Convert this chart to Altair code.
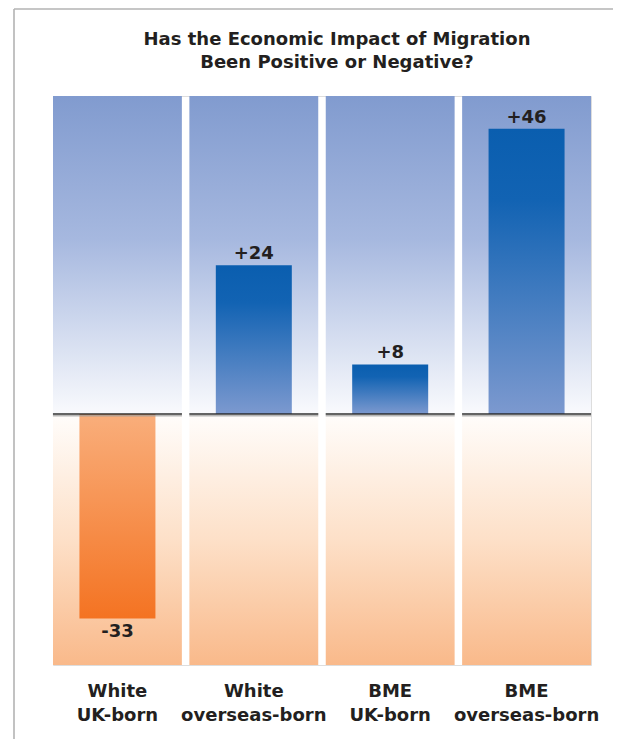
import altair as alt
import pandas as pd

title_lines = ["Has the Economic Impact of Migration", "Been Positive or Negative?"]
categories = ["White UK-born", "White overseas-born", "BME UK-born", "BME overseas-born"]
values = [-33, 24, 8, 46]
y_top = 51.3
y_bottom = -40.5

df = pd.DataFrame({
    "cat": categories,
    "value": values,
    "label": [f"{v:+d}" for v in values],
    "top": [y_top] * len(categories),
    "bottom": [y_bottom] * len(categories),
    "zero": [0] * len(categories),
})

FONT = "DejaVu Sans"
TXT = "#231f20"

xenc = alt.X(
    "cat:N",
    sort=categories,
    scale=alt.Scale(paddingInner=0.055, paddingOuter=0),
    axis=alt.Axis(
        title=None, labelAngle=0, ticks=False, domain=False,
        labelFontSize=18, labelFont=FONT, labelFontWeight="bold",
        labelColor=TXT, labelPadding=17, labelLineHeight=24,
        labelExpr="[slice(datum.label, 0, indexof(datum.label, ' ')), slice(datum.label, indexof(datum.label, ' ') + 1)]",
    ),
)
yscale = alt.Scale(domain=[y_bottom, y_top], nice=False, zero=False)

def grad(stops):
    return alt.Gradient(
        gradient="linear",
        stops=[alt.GradientStop(color=c, offset=o) for o, c in stops],
        x1=0, x2=0, y1=0, y2=1,
    )

base = alt.Chart(df)

bg_top = base.mark_bar(
    color=grad([(0, "#819bcf"), (0.45, "#a6b8df"), (1, "#f9fafd")])
).encode(x=xenc, y=alt.Y("zero:Q", scale=yscale, axis=None), y2="top:Q")

bg_bot = base.mark_bar(
    color=grad([(0, "#fffdfb"), (0.5, "#fde0c8"), (1, "#f9b98a")])
).encode(x=xenc, y=alt.Y("zero:Q", scale=yscale, axis=None), y2="bottom:Q")

pos_bars = base.transform_filter("datum.value > 0").mark_bar(
    size=76, color=grad([(0, "#0a5eaf"), (0.25, "#1263b3"), (1, "#7c99cf")])
).encode(x=xenc, y=alt.Y("value:Q", scale=yscale, axis=None), y2="zero:Q")

neg_bars = base.transform_filter("datum.value < 0").mark_bar(
    size=76, color=grad([(0, "#f9ae7b"), (1, "#f47322")])
).encode(x=xenc, y=alt.Y("zero:Q", scale=yscale, axis=None), y2="value:Q")

zero_shadow = base.mark_tick(size=129, thickness=1.5, color="#9a9a9a", yOffset=1.8).encode(
    x=xenc, y=alt.Y("zero:Q", scale=yscale, axis=None)
)
zero_line = base.mark_tick(size=129, thickness=2, color="#222222").encode(
    x=xenc, y=alt.Y("zero:Q", scale=yscale, axis=None)
)

pos_text = base.transform_filter("datum.value > 0").mark_text(
    baseline="alphabetic", dy=-6, fontSize=18, font=FONT, fontWeight="bold", color=TXT
).encode(x=xenc, y=alt.Y("value:Q", scale=yscale, axis=None), text="label:N")

neg_text = base.transform_filter("datum.value < 0").mark_text(
    baseline="alphabetic", dy=18, fontSize=18, font=FONT, fontWeight="bold", color=TXT
).encode(x=xenc, y=alt.Y("value:Q", scale=yscale, axis=None), text="label:N")

one = alt.Data(values=[{"k": 1}])
frame_top = alt.Chart(one).mark_rule(color="#b3b3b3", strokeWidth=1.6).encode(
    x=alt.value(-39), x2=alt.value(620), y=alt.value(-87)
)
frame_left = alt.Chart(one).mark_rule(color="#b3b3b3", strokeWidth=1.6).encode(
    x=alt.value(-39), y=alt.value(-87), y2=alt.value(700)
)
title_text = alt.Chart(one).mark_text(
    text=title_lines, font=FONT, fontSize=18, fontWeight="bold", color=TXT,
    lineHeight=23, baseline="alphabetic", align="center",
).encode(x=alt.value(284), y=alt.value(-51))

chart = alt.layer(
    frame_top, frame_left, bg_top, bg_bot, pos_bars, neg_bars,
    zero_shadow, zero_line, pos_text, neg_text, title_text,
).properties(
    width=538,
    height=569,
    autosize=alt.AutoSizeParams(type="none"),
    padding={"left": 45, "top": 88, "right": 22, "bottom": 74},
).configure_view(strokeOpacity=0).configure(background="white")

chart.save("out.html", embed_options={"renderer": "svg", "actions": False})
